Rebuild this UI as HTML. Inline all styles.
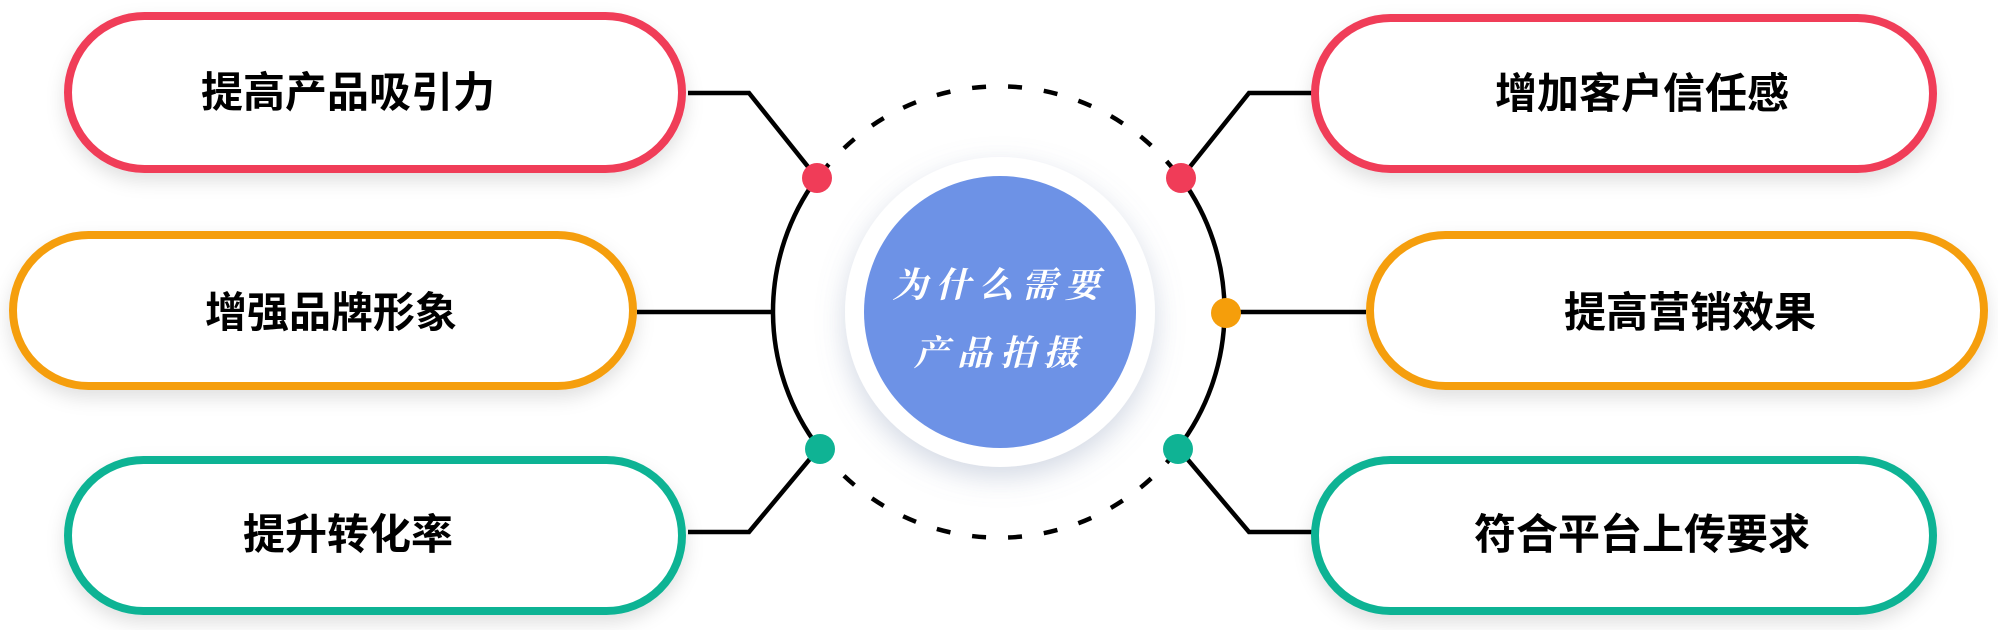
<!DOCTYPE html>
<html><head><meta charset="utf-8"><style>
html,body{margin:0;padding:0;background:#fff;width:1998px;height:630px;overflow:hidden}
</style></head><body>
<svg width="1998" height="630" viewBox="0 0 1998 630" xmlns="http://www.w3.org/2000/svg">
<defs>
<filter id="sh" x="-10%" y="-30%" width="120%" height="160%"><feDropShadow dx="0" dy="8" stdDeviation="9" flood-color="#000" flood-opacity="0.12"/></filter>
<filter id="csh" x="-30%" y="-30%" width="160%" height="160%"><feDropShadow dx="0" dy="10" stdDeviation="14" flood-color="#8090b0" flood-opacity="0.35"/></filter>
</defs>
<g fill="none" stroke="#000" stroke-width="4.5">
<path d="M820,175 A225,225 0 0 1 1178,175" stroke-dasharray="14,22"/>
<path d="M820,449 A225,225 0 0 0 1178,449" stroke-dasharray="14,22"/>
<path d="M817,178 A225,225 0 0 0 819,448"/>
<path d="M1181,178 A225,225 0 0 1 1178,448"/>
<polyline points="688,93 749,93 817,178"/>
<polyline points="637,312 774,312"/>
<polyline points="688,532 749,532 819,448"/>
<polyline points="1312,93 1249,93 1181,178"/>
<polyline points="1226,312 1366,312"/>
<polyline points="1312,532 1249,532 1178,448"/>
</g>
<circle cx="817" cy="178" r="15" fill="#f03c58"/>
<circle cx="820" cy="449" r="15" fill="#0fb394"/>
<circle cx="1181" cy="178" r="15" fill="#f03c58"/>
<circle cx="1226" cy="313" r="15" fill="#f59e0b"/>
<circle cx="1178" cy="449" r="15" fill="#0fb394"/>
<circle cx="1000" cy="312" r="155" fill="#fff" filter="url(#csh)"/>
<circle cx="1000" cy="312" r="136" fill="#6d92e6"/>
<g fill="#fff" font-family="'Noto Serif CJK SC','Liberation Serif',serif" font-weight="bold" font-style="italic" font-size="35" text-anchor="middle">
<text x="1000" y="297" letter-spacing="8">为什么需要</text>
<text x="1000" y="365" letter-spacing="8">产品拍摄</text>
</g>
<g fill="#fff" stroke-width="8" filter="url(#sh)">
<rect x="68" y="16" width="614" height="153" rx="76.5" stroke="#f03c58"/>
<rect x="13" y="235" width="620" height="151" rx="75.5" stroke="#f59e0b"/>
<rect x="68" y="460" width="614" height="151" rx="75.5" stroke="#0fb394"/>
<rect x="1315" y="18" width="618" height="151" rx="75.5" stroke="#f03c58"/>
<rect x="1370" y="235" width="614" height="151" rx="75.5" stroke="#f59e0b"/>
<rect x="1315" y="460" width="618" height="151" rx="75.5" stroke="#0fb394"/>
</g>
<g fill="#000" font-family="'Liberation Sans','Noto Sans CJK SC',sans-serif" font-weight="bold" font-size="42" text-anchor="middle">
<text x="348" y="107">提高产品吸引力</text>
<text x="331" y="327">增强品牌形象</text>
<text x="348" y="549">提升转化率</text>
<text x="1642" y="108">增加客户信任感</text>
<text x="1690" y="327">提高营销效果</text>
<text x="1642" y="549">符合平台上传要求</text>
</g>
</svg>
</body></html>
